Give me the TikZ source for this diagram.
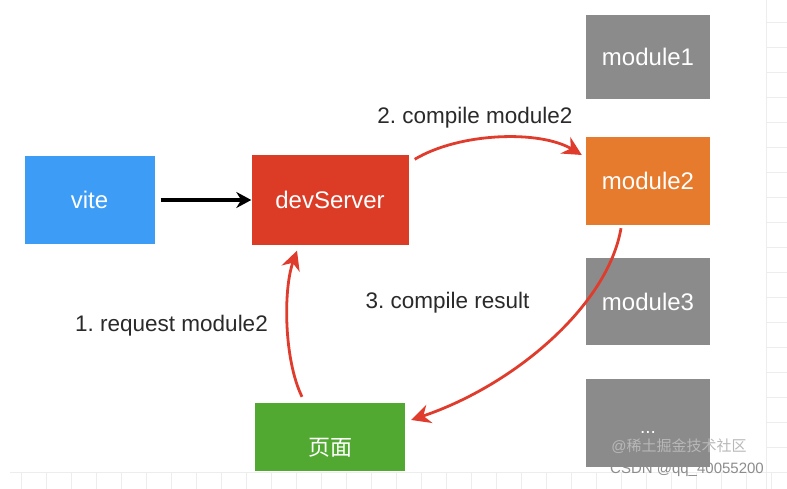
\documentclass[tikz,border=0pt]{standalone}
\usepackage{fontspec}
\setmainfont{Liberation Sans}
\newfontfamily\cjkfont{Noto Sans CJK SC}
\usetikzlibrary{arrows.meta}
\definecolor{viteblue}{HTML}{3D9CF5}
\definecolor{devred}{HTML}{DC3B26}
\definecolor{modorange}{HTML}{E67A2D}
\definecolor{modgray}{HTML}{8B8B8B}
\definecolor{pagegreen}{HTML}{52A932}
\definecolor{arrred}{HTML}{E03C2D}
\definecolor{labelgray}{HTML}{2A2A2A}
\definecolor{gridgray}{HTML}{EDEDED}
\frenchspacing
\tikzset{
  box/.style={rectangle, draw=none, text=white, font=\fontsize{24}{26}\selectfont,
    text height=17pt, text depth=0pt, inner sep=0pt},
  lbl/.style={anchor=base, text=labelgray, font=\fontsize{22.5}{24}\selectfont, inner sep=0pt},
  redarrow/.style={draw=arrred, line width=2.8pt, -{Stealth[length=19pt,width=19pt]}},
  blackarrow/.style={draw=black, line width=3.4pt, -{Stealth[length=15pt,width=16pt]}},
  gridline/.style={draw=gridgray, line width=0.8pt},
  wm/.style={inner sep=0pt, font=\fontsize{15}{16}\selectfont}
}
\begin{document}
\begin{tikzpicture}[x=1pt,y=-1pt]
\useasboundingbox[fill=white] (0,0) rectangle (787,489);
% faint background grid
\draw[gridline] (766,0) -- (766,489);
\foreach \yy in {22,47,...,472} { \draw[gridline] (766,\yy) -- (787,\yy); }
\draw[gridline] (10,472) -- (787,472);
\foreach \xx in {21,46,...,771} { \draw[gridline] (\xx,472) -- (\xx,489); }

% boxes
\node[box, fill=viteblue, minimum width=130pt, minimum height=88pt] (vite) at (89.5,200) {vite};
\node[box, fill=devred, minimum width=157pt, minimum height=89pt] (dev) at (330,200) {devServer};
\node[box, fill=modgray, minimum width=124pt, minimum height=84pt] (m1) at (648,57) {module1};
\node[box, fill=modorange, minimum width=124pt, minimum height=88pt] (m2) at (648,181) {module2};
\node[box, fill=modgray, minimum width=124pt, minimum height=87pt] (m3) at (648,301.5) {module3};
\node[box, fill=modgray, minimum width=124pt, minimum height=88pt] (m4) at (648,423) {};
\node[box, anchor=base, font=\fontsize{19}{20}\selectfont] (dots) at (648,433) {...};
\node[box, fill=pagegreen, minimum width=150pt, minimum height=68pt] (page) at (330,437) {};
\node[box, font=\cjkfont\fontsize{22}{24}\selectfont] (pagetext) at (330,447) {页面};

% connectors
\draw[blackarrow] (vite.east) ++(6pt,0) coordinate (vs) (vs) -- (dev.west);
\draw[redarrow] ([xshift=6pt,yshift=-4pt]dev.north east) .. controls +(45,-27) and +(-42,-25) .. ([xshift=-4pt,yshift=26pt]m2.west);
\draw[redarrow] ([xshift=-27pt,yshift=-3pt]m2.south) .. controls (608,305) and (515,385) .. ([xshift=6pt,yshift=17pt]page.east);
\draw[redarrow] ([xshift=-28pt,yshift=6pt]page.north) .. controls (284,360) and (283,290) .. ([xshift=-33pt,yshift=-6pt]dev.south);

% labels
\node[lbl] (l2) at (475,124) {2. compile module2};
\node[lbl] (l3) at (447.5,308) {3. compile result};
\node[lbl] (l1) at (171.5,331) {1. request module2};

% watermarks
\node[wm, text=white!72!black] (wm1) at (679,446) {@{\cjkfont 稀土掘金技术社区}};
\node[wm, text=white!55!black] (wm2) at (687,470) {CSDN @qq\_40055200};
\end{tikzpicture}
\end{document}
